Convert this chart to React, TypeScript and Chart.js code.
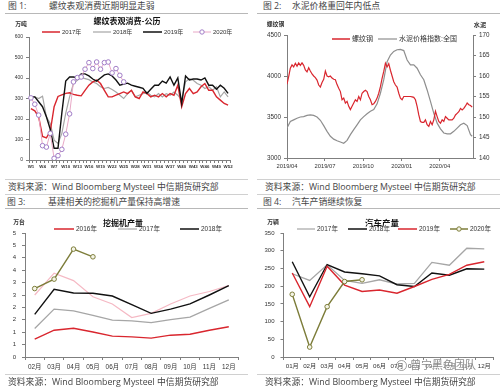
import React, { useEffect, useRef } from 'react';
import { Chart, registerables } from 'chart.js';

Chart.register(...registerables);

const NUM = '"Liberation Sans", "Noto Sans CJK SC", sans-serif';
const CJK = '"Open Sans", "Noto Sans CJK SC", sans-serif';
Chart.defaults.font.family = NUM;

const RED = '#d9262e';
const GRAY = '#a6a6a6';
const BLACK = '#111111';
const PURPLE = '#a07cc6';
const PURPLE_LINE = '#e8a8c6';
const PINK = '#f5b9c4';
const OLIVE = '#7d7d3a';
const AXIS = '#7f7f7f';
const CEMENT = '#8e8e8e';

// ---------- 图1 螺纹表观消费 (万吨) ----------
const weekLabels = ['W1','W2','W3','W4','W5','W6','W7','W8','W9','W10','W11','W12','W13','W14','W15','W16','W17','W18','W19','W20','W21','W22','W23','W24','W25','W26','W27','W28','W29','W30','W31','W32','W33','W34','W35','W36','W37','W38','W39','W40','W41','W42','W43','W44','W45','W46','W47','W48','W49','W50','W51','W52'];
const steel2017 = [251,240,211,115,108,140,260,310,318,325,328,320,316,313,340,365,381,390,373,340,308,308,316,324,332,324,340,308,300,332,324,308,316,308,324,308,324,316,365,260,324,349,324,332,357,373,340,340,308,292,276,268];
const steel2018 = [300,308,300,311,211,178,97,81,130,227,308,373,389,402,397,392,381,373,357,349,354,344,332,316,300,324,340,308,316,324,332,316,308,324,308,324,316,332,316,292,381,397,389,373,365,349,357,340,357,308,332,308];
const steel2019 = [308,308,284,260,211,150,57,57,230,385,405,405,400,420,420,410,395,385,400,415,420,410,390,365,370,375,365,360,355,350,325,345,365,365,385,375,405,365,400,275,410,390,395,395,390,400,365,365,345,365,350,325];
const steel2020 = [303,272,219,70,63,130,8,21,52,126,225,381,402,405,443,475,446,478,443,475,478,425,446,413,381];
const steelYMax = 600;
const steelYStep = 100;

// ---------- 图2 螺纹钢 vs 水泥价格指数 ----------
const dateTickDays = [0, 91, 183, 275, 366];
const dateTickLabels = ['2019/04', '2019/07', '2019/10', '2020/01', '2020/04'];
const rebarDays = [0,4,8,12,16,20,24,28,32,36,40,44,48,52,56,60,64,68,72,76,80,84,88,92,96,100,104,108,112,116,120,124,128,132,136,140,144,148,152,156,160,164,168,172,176,180,184,188,192,196,200,204,208,212,216,220,224,228,232,236,240,244,248,252,256,260,264,268,272,276,280,284,288,292,296,300,304,308,312,316,320,324,328,332,336,340,344,348,352,356,360,364,368,372,376,380,384,388,392,396,400,404,408,412,416,420,424,428,432,436,440,444];
const rebarPrice = [3900,3993,4095,4135,4110,4155,4120,4160,4130,4160,4130,4075,4050,4100,4060,4025,4000,3980,3950,3890,3865,3920,3960,4060,4000,3990,4000,3975,3960,3955,3895,3850,3810,3710,3730,3670,3690,3630,3590,3630,3670,3710,3690,3750,3710,3790,3810,3825,3810,3750,3710,3650,3660,3690,3730,3790,3870,3970,4055,4155,4110,4150,4070,4000,3930,3890,3865,3790,3730,3710,3750,3750,3750,3750,3750,3745,3740,3710,3630,3525,3445,3435,3435,3465,3405,3385,3445,3405,3465,3570,3505,3445,3425,3465,3445,3505,3485,3465,3465,3465,3485,3525,3545,3565,3605,3585,3605,3635,3670,3650,3640,3620];
const cementDays = [0,8,16,24,32,40,48,56,64,72,80,88,96,104,112,120,128,136,144,152,160,168,176,184,192,200,208,216,224,232,240,248,256,264,272,280,288,296,304,312,320,328,336,344,352,360,368,376,384,392,400,408,416,424,432,440,444];
const cementIndex = [147.3,148.9,149.3,149.7,150.0,150.1,150.4,150.5,150.4,150.0,149.2,147.9,146.5,145.3,144.6,144.2,143.9,143.6,144.3,145.7,146.9,148.1,149.3,150.1,150.8,151.4,151.8,153.2,155.8,159.1,163.5,165.1,166.0,166.4,166.5,166.2,163.9,162.7,162.7,161.9,160.3,159.1,156.6,153.8,150.9,148.5,147.1,146.1,145.9,145.9,146.5,147.3,148.1,148.5,147.9,145.7,145.3];

// ---------- 图3 挖掘机产量 (万台) ----------
const excMonths = ['02月','03月','04月','05月','06月','07月','08月','09月','10月','11月','12月'];
const exc2016 = [0.72,1.08,1.16,1.01,0.84,0.81,0.76,0.88,0.92,1.08,1.22];
const exc2017 = [1.15,1.93,1.86,1.68,1.49,1.46,1.39,1.51,1.61,1.96,2.30];
const exc2018 = [1.72,2.73,2.58,2.57,2.46,2.11,1.76,1.93,2.14,2.50,2.88];
const exc2019 = [2.50,3.38,3.08,2.43,2.14,1.59,1.76,2.14,2.46,2.64,2.88];
const exc2020 = [2.76,3.14,4.35,4.04];
const excTickLabels = ['0','1','1','2','2','3','3','4','4','5','5'];

// ---------- 图4 汽车产量 (万辆) ----------
const carMonths = ['01月','02月','03月','04月','05月','06月','07月','08月','09月','10月','11月','12月'];
const car2017 = [235,216,260,216,208,218,206,208,267,259,307,305];
const car2018 = [269,170,261,240,235,229,204,199,237,231,249,248];
const car2019 = [237,142,256,203,185,189,180,199,219,233,259,269];
const car2020 = [177,28,142,213,218];

// ---------- decoration plugin (title, units, legend) ----------
const decorPlugin = {
  id: 'decor',
  afterDraw(chart: any, _args: any, o: any) {
    const ctx = chart.ctx;
    ctx.save();
    ctx.textBaseline = 'middle';
    if (o.legend) {
      const L = o.legend;
      ctx.font = `${L.size}px ${NUM}`;
      L.items.forEach((it: any) => {
        ctx.strokeStyle = it.color;
        ctx.lineWidth = it.lw || 1.5;
        ctx.beginPath();
        ctx.moveTo(it.x, L.y);
        ctx.lineTo(it.x + it.w, L.y);
        ctx.stroke();
        if (it.marker) {
          ctx.beginPath();
          ctx.arc(it.x + it.w / 2, L.y, 2.2, 0, Math.PI * 2);
          ctx.fillStyle = it.marker.fill;
          ctx.fill();
          ctx.strokeStyle = it.marker.border;
          ctx.lineWidth = 1;
          ctx.stroke();
        }
        ctx.fillStyle = '#333';
        ctx.textAlign = 'left';
        ctx.fillText(it.text, it.x + it.w + 2, L.y + 0.5);
      });
    }
    if (o.title) {
      ctx.font = `bold ${o.title.size}px "Noto Sans CJK SC", sans-serif`;
      ctx.fillStyle = '#111';
      ctx.textAlign = 'center';
      ctx.fillText(o.title.text, o.title.x, o.title.y);
    }
    (o.units || []).forEach((u: any) => {
      ctx.font = `bold ${u.size}px "Noto Sans CJK SC", sans-serif`;
      ctx.fillStyle = '#333';
      ctx.textAlign = 'center';
      ctx.fillText(u.text, u.x, u.y);
    });
    ctx.restore();
  },
};

const gridOpts = (offset = false) => ({
  display: true,
  drawOnChartArea: false,
  drawTicks: true,
  tickLength: 3,
  color: AXIS,
  offset,
});
const borderOpts = { display: true, color: AXIS, width: 1 };
const plain = (v: any) => String(v);
const baseOptions = (padding: any) => ({
  responsive: false,
  animation: false,
  devicePixelRatio: 1,
  layout: { padding },
  elements: { line: { tension: 0 } },
});

function ChartBox(props: { left: number; top: number; width: number; height: number; make: () => any }) {
  const ref = useRef<HTMLCanvasElement>(null);
  useEffect(() => {
    const chart = new Chart(ref.current as HTMLCanvasElement, props.make());
    return () => chart.destroy();
  }, []);
  return (
    <div style={{ position: 'absolute', left: props.left, top: props.top, width: props.width, height: props.height }}>
      <canvas ref={ref} width={props.width} height={props.height} style={{ display: 'block', width: props.width, height: props.height }} />
    </div>
  );
}

const makeChart1 = () => ({
  type: 'line',
  data: {
    labels: weekLabels,
    datasets: [
      { label: '2017年', data: steel2017, borderColor: RED, borderWidth: 1.4, pointRadius: 0, order: 2 },
      { label: '2018年', data: steel2018, borderColor: GRAY, borderWidth: 1.2, pointRadius: 0, order: 3 },
      { label: '2019年', data: steel2019, borderColor: BLACK, borderWidth: 1.4, pointRadius: 0, order: 1 },
      { label: '2020年', data: steel2020, borderColor: PURPLE_LINE, borderWidth: 1, pointRadius: 2.3, pointBorderColor: PURPLE, pointBackgroundColor: '#ffffff', pointBorderWidth: 1, order: 0 },
    ],
  },
  options: {
    ...baseOptions({ top: 23, right: 20, left: 0, bottom: 0 }),
    plugins: {
      legend: { display: false },
      tooltip: { enabled: false },
      decor: {
        title: { text: '螺纹表观消费-公历', x: 127, y: 7, size: 8 },
        units: [{ text: '万吨', x: 21, y: 10, size: 5.8 }],
        legend: {
          y: 18, size: 6,
          items: [
            { text: '2017年', color: RED, x: 42, w: 18 },
            { text: '2018年', color: GRAY, x: 93, w: 18, lw: 1.2 },
            { text: '2019年', color: BLACK, x: 143, w: 19 },
            { text: '2020年', color: PURPLE_LINE, x: 193, w: 18, lw: 1, marker: { border: PURPLE, fill: '#fff' } },
          ],
        },
      },
    },
    scales: {
      x: {
        type: 'category',
        offset: true,
        grid: gridOpts(true),
        border: borderOpts,
        ticks: {
          autoSkip: false, maxRotation: 0, minRotation: 0, padding: 1,
          font: { size: 4.4, weight: 'bold' }, color: '#333',
          callback: (_v: any, i: number) => (i % 3 === 0 ? weekLabels[i] : ''),
        },
        afterFit: (s: any) => { s.height = 16; },
      },
      y: {
        min: 0, max: steelYMax,
        grid: gridOpts(),
        border: borderOpts,
        ticks: { stepSize: steelYStep, font: { size: 5 }, color: '#333', padding: 3, callback: plain },
        afterFit: (s: any) => { s.width = 29; },
      },
    },
  },
  plugins: [decorPlugin],
});

const makeChart2 = () => ({
  type: 'line',
  data: {
    datasets: [
      { label: '螺纹钢', data: rebarDays.map((d, i) => ({ x: d, y: rebarPrice[i] })), borderColor: RED, borderWidth: 1.2, pointRadius: 0, yAxisID: 'y', order: 0 },
      { label: '水泥价格指数:全国', data: cementDays.map((d, i) => ({ x: d, y: cementIndex[i] })), borderColor: CEMENT, borderWidth: 1.2, pointRadius: 0, yAxisID: 'y2', order: 1 },
    ],
  },
  options: {
    ...baseOptions({ top: 21, right: 0, left: 0, bottom: 0 }),
    plugins: {
      legend: { display: false },
      tooltip: { enabled: false },
      decor: {
        units: [
          { text: '螺纹钢', x: 25.5, y: 9.5, size: 5.8 },
          { text: '水泥', x: 230, y: 11, size: 6.2 },
        ],
        legend: {
          y: 25, size: 7,
          items: [
            { text: '螺纹钢', color: RED, x: 82, w: 18 },
            { text: '水泥价格指数:全国', color: CEMENT, x: 128, w: 19, lw: 1.2 },
          ],
        },
      },
    },
    scales: {
      x: {
        type: 'linear',
        min: 0, max: 446,
        grid: gridOpts(),
        border: borderOpts,
        afterBuildTicks: (s: any) => { s.ticks = dateTickDays.map((v) => ({ value: v })); },
        ticks: { autoSkip: false, maxRotation: 0, padding: 2, font: { size: 5.8 }, color: '#333', callback: (_v: any, i: number) => dateTickLabels[i] },
        afterFit: (s: any) => { s.height = 18; },
      },
      y: {
        position: 'left',
        min: 3000, max: 4500,
        grid: gridOpts(),
        border: borderOpts,
        ticks: { stepSize: 500, font: { size: 6.3 }, color: '#333', padding: 3, callback: plain },
        afterFit: (s: any) => { s.width = 37; },
      },
      y2: {
        position: 'right',
        min: 140, max: 170,
        grid: gridOpts(),
        border: borderOpts,
        ticks: { stepSize: 5, font: { size: 6.3 }, color: '#333', padding: 3, callback: plain },
        afterFit: (s: any) => { s.width = 27; },
      },
    },
  },
  plugins: [decorPlugin],
});

const makeChart3 = () => ({
  type: 'line',
  data: {
    labels: excMonths,
    datasets: [
      { label: '2016年', data: exc2016, borderColor: RED, borderWidth: 1.4, pointRadius: 0, order: 1 },
      { label: '2017年', data: exc2017, borderColor: GRAY, borderWidth: 1.3, pointRadius: 0, order: 2 },
      { label: '2018年', data: exc2018, borderColor: BLACK, borderWidth: 1.4, pointRadius: 0, order: 1 },
      { label: '2019年', data: exc2019, borderColor: PINK, borderWidth: 1.2, pointRadius: 0, order: 3 },
      { label: '2020年', data: exc2020, borderColor: OLIVE, borderWidth: 1.4, pointRadius: 2.3, pointBorderColor: OLIVE, pointBackgroundColor: '#f4f4e6', pointBorderWidth: 1, order: 0 },
    ],
  },
  options: {
    ...baseOptions({ top: 24, right: 11.5, left: 0, bottom: 0 }),
    plugins: {
      legend: { display: false },
      tooltip: { enabled: false },
      decor: {
        title: { text: '挖掘机产量', x: 123, y: 14, size: 8 },
        units: [{ text: '万台', x: 19, y: 13, size: 5.8 }],
        legend: {
          y: 20, size: 6.5,
          items: [
            { text: '2016年', color: RED, x: 54, w: 20 },
            { text: '2017年', color: GRAY, x: 118, w: 19, lw: 1.2 },
            { text: '2018年', color: BLACK, x: 180, w: 19 },
          ],
        },
      },
    },
    scales: {
      x: {
        type: 'category',
        offset: true,
        grid: gridOpts(true),
        border: borderOpts,
        ticks: { autoSkip: false, maxRotation: 0, padding: 3, font: { size: 6.4 }, color: '#333' },
        afterFit: (s: any) => { s.height = 16; },
      },
      y: {
        min: 0, max: 5,
        grid: gridOpts(),
        border: borderOpts,
        ticks: { stepSize: 0.5, font: { size: 6 }, color: '#333', padding: 6, callback: (_v: any, i: number) => excTickLabels[i] },
        afterFit: (s: any) => { s.width = 25; },
      },
    },
  },
  plugins: [decorPlugin],
});

const makeChart4 = () => ({
  type: 'line',
  data: {
    labels: carMonths,
    datasets: [
      { label: '2017年', data: car2017, borderColor: GRAY, borderWidth: 1.3, pointRadius: 0, order: 3 },
      { label: '2018年', data: car2018, borderColor: BLACK, borderWidth: 1.4, pointRadius: 0, order: 2 },
      { label: '2019年', data: car2019, borderColor: RED, borderWidth: 1.4, pointRadius: 0, order: 1 },
      { label: '2020年', data: car2020, borderColor: OLIVE, borderWidth: 1.4, pointRadius: 2.3, pointBorderColor: OLIVE, pointBackgroundColor: '#f4f4e6', pointBorderWidth: 1, order: 0 },
    ],
  },
  options: {
    ...baseOptions({ top: 24, right: 7, left: 0, bottom: 0 }),
    plugins: {
      legend: { display: false },
      tooltip: { enabled: false },
      decor: {
        title: { text: '汽车产量', x: 132, y: 14, size: 8.5 },
        units: [{ text: '万辆', x: 23, y: 13, size: 5.8 }],
        legend: {
          y: 20, size: 6.5,
          items: [
            { text: '2017年', color: GRAY, x: 47, w: 18, lw: 1.2 },
            { text: '2018年', color: BLACK, x: 98, w: 19 },
            { text: '2019年', color: RED, x: 148, w: 19 },
            { text: '2020年', color: OLIVE, x: 200, w: 18, marker: { border: OLIVE, fill: '#f4f4e6' } },
          ],
        },
      },
    },
    scales: {
      x: {
        type: 'category',
        offset: true,
        grid: gridOpts(true),
        border: borderOpts,
        ticks: { autoSkip: false, maxRotation: 0, padding: 3, font: { size: 6.2 }, color: '#333' },
        afterFit: (s: any) => { s.height = 16; },
      },
      y: {
        min: 0, max: 350,
        grid: gridOpts(),
        border: borderOpts,
        ticks: { stepSize: 50, font: { size: 6 }, color: '#333', padding: 6, callback: plain },
        afterFit: (s: any) => { s.width = 33.5; },
      },
    },
  },
  plugins: [decorPlugin],
});

const headerStyle = (left: number, top: number): React.CSSProperties => ({
  position: 'absolute', left, top, fontSize: 8.8, lineHeight: '10px', color: '#444',
  fontFamily: CJK, whiteSpace: 'nowrap',
});
const line = (left: number, top: number, width: number, color: string, h = 1.5): React.CSSProperties => ({
  position: 'absolute', left, top, width, height: h, background: color,
});

const SOURCE = '资料来源：Wind Bloomberg Mysteel 中信期货研究部';

export default function App() {
  return (
    <div style={{ position: 'absolute', left: 0, top: 0, width: 500, height: 389, background: '#fff', overflow: 'hidden' }}>
      {/* headers */}
      <div style={headerStyle(8, 0.7)}>图 1:</div>
      <div style={headerStyle(49, 0.7)}>螺纹表观消费近期明显走弱</div>
      <div style={headerStyle(263, 0.7)}>图 2:</div>
      <div style={headerStyle(292, 0.7)}>水泥价格重回年内低点</div>
      <div style={line(5, 12.5, 243, '#b8b8b8')} />
      <div style={line(257, 12.5, 243, '#b8b8b8')} />

      <ChartBox left={0} top={14} width={250} height={162} make={makeChart1} />
      <ChartBox left={250} top={14} width={250} height={162} make={makeChart2} />

      <div style={line(5, 178.5, 243, '#d0d0d0', 1.2)} />
      <div style={line(257, 178.5, 243, '#d0d0d0', 1.2)} />
      <div style={headerStyle(8, 182)}>{SOURCE}</div>
      <div style={headerStyle(265, 182)}>{SOURCE}</div>
      <div style={line(5, 193.5, 243, '#d0d0d0', 1.2)} />
      <div style={line(257, 193.5, 243, '#d0d0d0', 1.2)} />

      <div style={headerStyle(7, 196.7)}>图 3:</div>
      <div style={headerStyle(48, 196.7)}>基建相关的挖掘机产量保持高增速</div>
      <div style={headerStyle(263, 196.7)}>图 4:</div>
      <div style={headerStyle(292, 196.7)}>汽车产销继续恢复</div>
      <div style={line(5, 207.5, 243, '#b8b8b8')} />
      <div style={line(257, 207.5, 243, '#b8b8b8')} />

      <ChartBox left={0} top={209} width={250} height={164} make={makeChart3} />
      <ChartBox left={250} top={209} width={250} height={164} make={makeChart4} />

      <div style={line(5, 373.5, 243, '#d0d0d0', 1.2)} />
      <div style={line(257, 373.5, 243, '#d0d0d0', 1.2)} />
      <div style={headerStyle(8, 377)}>{SOURCE}</div>
      <div style={headerStyle(265, 377)}>{SOURCE}</div>

      {/* watermark */}
      <div style={{ position: 'absolute', left: 396, top: 360, width: 9, height: 9, borderRadius: '50%', border: '1px solid rgba(120,120,120,0.7)' }} />
      <div style={{ position: 'absolute', left: 410, top: 358, fontSize: 11, lineHeight: '14px', color: 'rgba(100,100,100,0.75)', fontFamily: CJK, whiteSpace: 'nowrap', textShadow: '0 0 2px #fff, 0 0 2px #fff' }}>曾宁黑色团队</div>
    </div>
  );
}
